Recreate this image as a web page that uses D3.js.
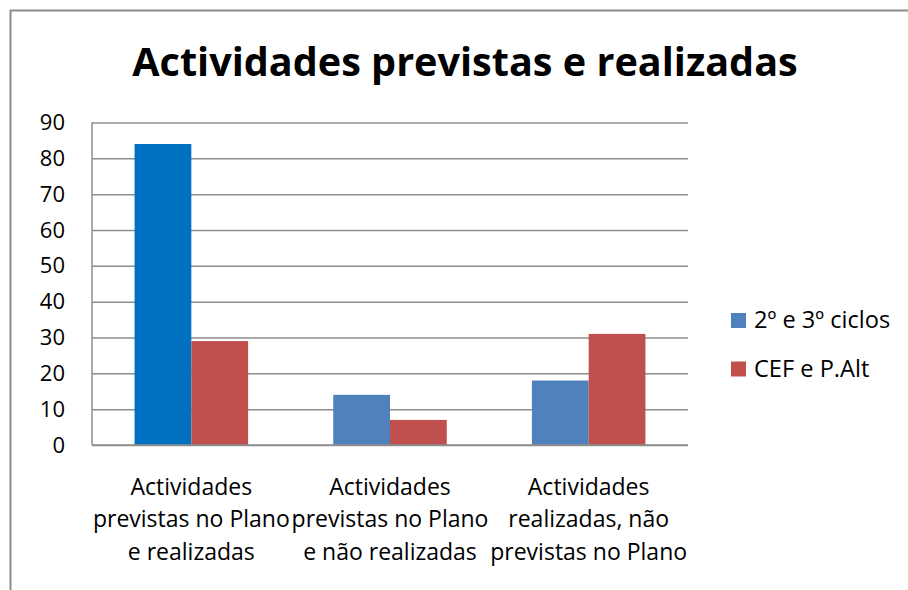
<!DOCTYPE html>
<html>
<head>
<meta charset="utf-8">
<script src="https://cdn.jsdelivr.net/npm/d3@7"></script>
<style>
  html, body { margin: 0; padding: 0; background: #fff; }
  svg { display: block; }
  text { font-family: "Open Sans", "Noto Sans", sans-serif; fill: #000; }
</style>
</head>
<body>
<div id="chart"></div>
<script>
const title = "Actividades previstas e realizadas";
const categories = [
  ["Actividades", "previstas no Plano", "e realizadas"],
  ["Actividades", "previstas no Plano", "e não realizadas"],
  ["Actividades", "realizadas, não", "previstas no Plano"]
];
const seriesNames = ["2º e 3º ciclos", "CEF e P.Alt"];
const series1 = [84, 14, 18];
const series2 = [29, 7, 31];
const yTicks = [0, 10, 20, 30, 40, 50, 60, 70, 80, 90];

const W = 908, H = 590;
const plot = { left: 92, right: 688, top: 122.5, bottom: 445 };
const seriesColors = ["#4F81BD", "#C0504D"];
const firstBarColor = "#0070C0";

const svg = d3.select("#chart").append("svg").attr("width", W).attr("height", H);
svg.append("rect").attr("width", W).attr("height", H).attr("fill", "#fff");

// outer frame (extends past right and bottom edges)
svg.append("rect")
  .attr("x", 10.5).attr("y", 10.5)
  .attr("width", W + 20).attr("height", H + 20)
  .attr("fill", "none").attr("stroke", "#8c8c8c").attr("stroke-width", 2);

// title
svg.append("text")
  .attr("x", 465).attr("y", 76)
  .attr("text-anchor", "middle")
  .style("font-size", "39.6px").style("font-weight", "bold")
  .text(title);

const y = d3.scaleLinear().domain([0, 90]).range([plot.bottom, plot.top]);
const catIdx = categories.map((d, i) => i);
const x0 = d3.scaleBand().domain(catIdx).range([plot.left, plot.right]).padding(0);
const x1 = d3.scaleBand().domain([0, 1]).range([0, x0.bandwidth()])
  .paddingInner(0).paddingOuter(0.75);

// gridlines
const grid = svg.append("g").attr("transform", `translate(${plot.left},0)`)
  .call(d3.axisLeft(y).tickValues(yTicks).tickSize(-(plot.right - plot.left)).tickFormat(""));
grid.select(".domain").remove();
grid.selectAll(".tick line").attr("stroke", "#8e8e8e").attr("stroke-width", 1.5);

// y axis line
svg.append("line")
  .attr("x1", plot.left).attr("x2", plot.left)
  .attr("y1", y(90)).attr("y2", y(0))
  .attr("stroke", "#8e8e8e").attr("stroke-width", 1.5);

// tick labels
const yAxis = svg.append("g").attr("transform", `translate(${plot.left - 27},0)`)
  .call(d3.axisLeft(y).tickValues(yTicks).tickSize(0).tickPadding(0));
yAxis.select(".domain").remove();
yAxis.selectAll("text")
  .style("font-size", "22px")
  .style("font-family", "'Open Sans', sans-serif")
  .attr("fill", "#000");

// bars
const data = catIdx.map(i => [series1[i], series2[i]]);
const groups = svg.append("g").selectAll("g").data(data).join("g")
  .attr("transform", (d, i) => `translate(${x0(i)},0)`);
groups.selectAll("rect").data((d, i) => d.map((v, s) => ({ v, s, c: i })))
  .join("rect")
  .attr("x", d => x1(d.s))
  .attr("width", x1.bandwidth())
  .attr("y", d => y(d.v))
  .attr("height", d => y(0) - y(d.v))
  .attr("fill", d => (d.s === 0 && d.c === 0) ? firstBarColor : seriesColors[d.s]);

// bottom axis line on top of bars
svg.append("line")
  .attr("x1", plot.left).attr("x2", plot.right)
  .attr("y1", y(0)).attr("y2", y(0))
  .attr("stroke", "#8e8e8e").attr("stroke-width", 1.5);

// category labels
const lineY = [495, 527, 560];
svg.append("g").selectAll("text").data(categories).join("text")
  .attr("text-anchor", "middle")
  .style("font-size", "23px")
  .each(function (lines, i) {
    const t = d3.select(this);
    lines.forEach((ln, k) => {
      t.append("tspan")
        .attr("x", x0(i) + x0.bandwidth() / 2)
        .attr("y", lineY[k])
        .text(ln);
    });
  });

// legend
const legY = [320.5, 369];
const leg = svg.append("g").selectAll("g").data(seriesNames).join("g")
  .attr("transform", (d, i) => `translate(731,${legY[i]})`);
leg.append("rect").attr("x", 0).attr("y", -7.5).attr("width", 15).attr("height", 15)
  .attr("fill", (d, i) => seriesColors[i]);
leg.append("text").attr("x", 23).attr("y", 7.5)
  .style("font-size", "23.6px")
  .text(d => d);
</script>
</body>
</html>
